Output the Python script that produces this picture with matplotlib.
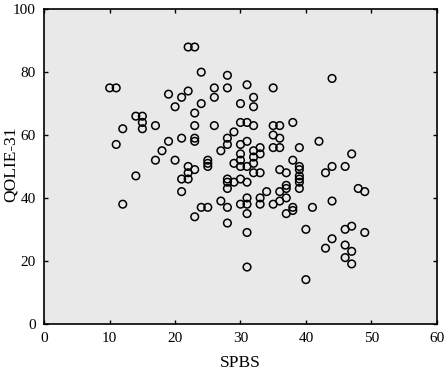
import matplotlib
matplotlib.use("Agg")
import matplotlib.pyplot as plt

spbs = [10, 11, 11, 12, 12, 14, 14, 15, 15, 15, 17, 17, 18, 19, 19, 20, 20,
        21, 21, 21, 21, 22, 22, 22, 22, 22, 23, 23, 23, 23, 23, 23, 23,
        24, 24, 24, 25, 25, 25, 25, 26, 26, 26, 27, 27,
        28, 28, 28, 28, 28, 28, 28, 28, 28, 29, 29, 29,
        30, 30, 30, 30, 30, 30, 30, 30,
        31, 31, 31, 31, 31, 31, 31, 31, 31, 31,
        32, 32, 32, 32, 32, 32, 32, 33, 33, 33, 33, 33, 34,
        35, 35, 35, 35, 35, 36, 36, 36, 36, 36, 36,
        37, 37, 37, 37, 37, 38, 38, 38, 38,
        39, 39, 39, 39, 39, 39, 39, 40, 40, 41, 42, 43, 43,
        44, 44, 44, 44, 46, 46, 46, 46, 47, 47, 47, 47, 48, 49, 49]
qolie = [75, 75, 57, 62, 38, 66, 47, 66, 64, 62, 63, 52, 55, 73, 58, 69, 52,
         72, 59, 46, 42, 88, 74, 50, 48, 46, 88, 67, 63, 59, 58, 49, 34,
         80, 70, 37, 52, 51, 50, 37, 75, 72, 63, 55, 39,
         79, 75, 59, 57, 46, 45, 43, 37, 32, 61, 51, 45,
         70, 64, 57, 54, 52, 50, 46, 38,
         76, 64, 58, 50, 45, 40, 38, 35, 29, 18,
         72, 69, 63, 55, 53, 51, 48, 56, 54, 48, 40, 38, 42,
         75, 63, 60, 56, 38, 63, 59, 56, 49, 42, 39,
         48, 44, 43, 40, 35, 64, 52, 37, 36,
         56, 50, 49, 47, 46, 45, 43, 30, 14, 37, 58, 48, 24,
         78, 50, 39, 27, 50, 30, 25, 21, 54, 31, 23, 19, 43, 42, 29]

plt.rcParams['font.family'] = ['Liberation Serif', 'DejaVu Serif']

W, H = 447, 372
fig = plt.figure(figsize=(W / 100, H / 100), dpi=100)
ax = fig.add_axes([0.099, 0.130, 0.878, 0.845])
ax.set_facecolor('#e9e9e9')
ax.scatter(spbs, qolie, s=30, facecolors='none', edgecolors='black', linewidths=1.1, zorder=3)
ax.set_xlim(0, 60)
ax.set_ylim(0, 100)
ax.set_xticks(range(0, 61, 10))
ax.set_yticks(range(0, 101, 20))
ax.tick_params(direction='in', length=3, width=1, top=True, right=True,
               labelsize=11, colors='black', pad=6)
for s in ax.spines.values():
    s.set_linewidth(1.2)
fig.text(240 / W, 1 - 363 / H, 'SPBS', fontsize=12.5, ha='center', va='center')
fig.text(11 / W, 1 - 164 / H, 'QOLIE-31', fontsize=12.5, ha='center', va='center', rotation=90)
fig.savefig('out.png', dpi=100)
